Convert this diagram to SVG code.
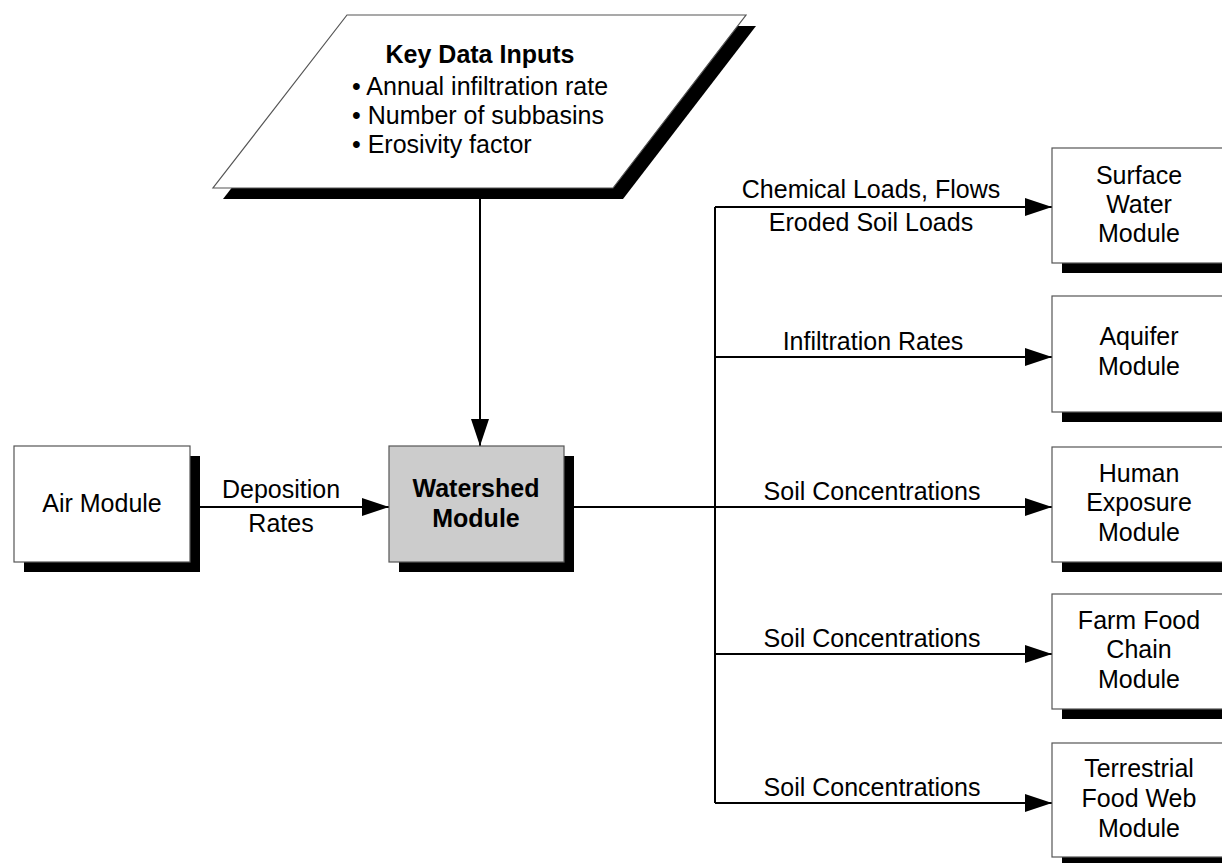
<svg xmlns="http://www.w3.org/2000/svg" width="1222" height="863" viewBox="0 0 1222 863">
<defs>
<style>
.t{font-family:"Liberation Sans",Arial,sans-serif;font-size:25px;fill:#000;text-anchor:middle}
.b{font-weight:bold}
.l{text-anchor:start}
.box{fill:#fff;stroke:#555;stroke-width:1.2}
.gray{fill:#cccccc}
.sh{fill:#000}
.c{stroke:#000;stroke-width:2;fill:none}
</style>
<marker id="ah" markerWidth="27" markerHeight="18" refX="27" refY="9" orient="auto" markerUnits="userSpaceOnUse">
<path d="M0,0 L27,9 L0,18 Z" fill="#000"/>
</marker>
</defs>
<rect width="1222" height="863" fill="#fff"/>

<g id="connectors">
<path class="c" d="M480,199 V446" marker-end="url(#ah)"/>
<path class="c" d="M200,507 H389" marker-end="url(#ah)"/>
<path class="c" d="M574,507 H715"/>
<path class="c" d="M715,207 V803"/>
<path class="c" d="M715,207 H1052" marker-end="url(#ah)"/>
<path class="c" d="M715,357 H1052" marker-end="url(#ah)"/>
<path class="c" d="M715,507 H1052" marker-end="url(#ah)"/>
<path class="c" d="M715,654 H1052" marker-end="url(#ah)"/>
<path class="c" d="M715,803 H1052" marker-end="url(#ah)"/>
<text class="t" x="281" y="498">Deposition</text>
<text class="t" x="281" y="532">Rates</text>
<text class="t" x="871" y="198">Chemical Loads, Flows</text>
<text class="t" x="871" y="231">Eroded Soil Loads</text>
<text class="t" x="873" y="350">Infiltration Rates</text>
<text class="t" x="872" y="500">Soil Concentrations</text>
<text class="t" x="872" y="647">Soil Concentrations</text>
<text class="t" x="872" y="796">Soil Concentrations</text>
</g>

<g id="key-data-inputs">
<polygon class="sh" points="357,26 756,26 623,199 223,199"/>
<polygon class="box" points="347,15 746,15 613,188 213,188"/>
<text class="t b" x="480" y="63">Key Data Inputs</text>
<text class="t l" x="352" y="95">• Annual infiltration rate</text>
<text class="t l" x="352" y="124">• Number of subbasins</text>
<text class="t l" x="352" y="153">• Erosivity factor</text>
</g>

<g id="air-module">
<rect class="sh" x="24" y="456" width="176" height="116"/>
<rect class="box" x="14" y="446" width="176" height="116"/>
<text class="t" x="102" y="512">Air Module</text>
</g>

<g id="watershed-module">
<rect class="sh" x="399" y="456" width="175" height="116"/>
<rect class="box gray" x="389" y="446" width="175" height="116"/>
<text class="t b" x="476" y="497">Watershed</text>
<text class="t b" x="476" y="527">Module</text>
</g>

<g id="surface-water-module">
<rect class="sh" x="1062" y="158" width="200" height="115"/>
<rect class="box" x="1052" y="148" width="200" height="115"/>
<text class="t" x="1139" y="184">Surface</text>
<text class="t" x="1139" y="213">Water</text>
<text class="t" x="1139" y="242">Module</text>
</g>

<g id="aquifer-module">
<rect class="sh" x="1062" y="306" width="200" height="116"/>
<rect class="box" x="1052" y="296" width="200" height="116"/>
<text class="t" x="1139" y="345">Aquifer</text>
<text class="t" x="1139" y="375">Module</text>
</g>

<g id="human-exposure-module">
<rect class="sh" x="1062" y="457" width="200" height="115"/>
<rect class="box" x="1052" y="447" width="200" height="115"/>
<text class="t" x="1139" y="482">Human</text>
<text class="t" x="1139" y="511">Exposure</text>
<text class="t" x="1139" y="541">Module</text>
</g>

<g id="farm-food-chain-module">
<rect class="sh" x="1062" y="604" width="200" height="115"/>
<rect class="box" x="1052" y="594" width="200" height="115"/>
<text class="t" x="1139" y="629">Farm Food</text>
<text class="t" x="1139" y="658">Chain</text>
<text class="t" x="1139" y="688">Module</text>
</g>

<g id="terrestrial-food-web-module">
<rect class="sh" x="1062" y="753" width="200" height="115"/>
<rect class="box" x="1052" y="743" width="200" height="114"/>
<text class="t" x="1139" y="777">Terrestrial</text>
<text class="t" x="1139" y="807">Food Web</text>
<text class="t" x="1139" y="837">Module</text>
</g>
</svg>
